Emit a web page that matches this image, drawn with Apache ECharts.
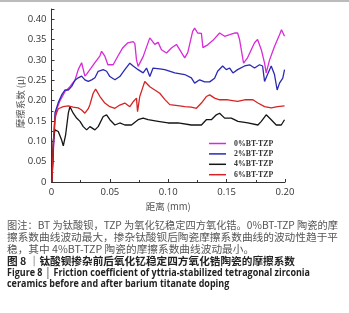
<!DOCTYPE html>
<html><head><meta charset="utf-8">
<script src="https://cdn.jsdelivr.net/npm/echarts@6/dist/echarts.min.js"></script>
<style>html,body{margin:0;padding:0;background:#fff}#c{width:349px;height:313px}</style>
</head><body><div id="c"></div>
<script>
const seriesNames = ['0%BT-TZP','2%BT-TZP','4%BT-TZP','6%BT-TZP'];
const seriesColors = ['#d82ad8','#2a2ab4','#151515','#d42424'];
const xTicks = [0, 0.05, 0.10, 0.15, 0.20];
const yTicks = [0, 0.05, 0.10, 0.15, 0.20, 0.25, 0.30, 0.35, 0.40];

const bt0 = [[0.0004,0],[0.0015,0.07],[0.0030,0.15],[0.0044,0.178],[0.0073,0.2],[0.0115,0.222],[0.0158,0.234],[0.0201,0.25],[0.0229,0.276],[0.0258,0.293],[0.0272,0.296],[0.0286,0.26],[0.0301,0.265],[0.0329,0.276],[0.0372,0.293],[0.0415,0.31],[0.0429,0.321],[0.0457,0.309],[0.0483,0.288],[0.0528,0.288],[0.0568,0.309],[0.0611,0.33],[0.0654,0.342],[0.0699,0.345],[0.0714,0.34],[0.0728,0.30],[0.0742,0.284],[0.0785,0.308],[0.0842,0.354],[0.0885,0.338],[0.0913,0.343],[0.0942,0.325],[0.0985,0.317],[0.1027,0.329],[0.1070,0.338],[0.1098,0.325],[0.1141,0.305],[0.1167,0.318],[0.1209,0.37],[0.1226,0.378],[0.1252,0.366],[0.1284,0.365],[0.1297,0.33],[0.1338,0.337],[0.1383,0.348],[0.1440,0.366],[0.1483,0.358],[0.1526,0.362],[0.1568,0.366],[0.1594,0.366],[0.1611,0.35],[0.1645,0.292],[0.1679,0.305],[0.1739,0.342],[0.1765,0.35],[0.1797,0.325],[0.1825,0.292],[0.1839,0.268],[0.1868,0.30],[0.1910,0.333],[0.1953,0.362],[0.1970,0.374],[0.1996,0.358]];
const bt2 = [[0.0004,0],[0.0015,0.08],[0.0030,0.17],[0.0058,0.195],[0.0087,0.214],[0.0115,0.226],[0.0144,0.226],[0.0173,0.235],[0.0201,0.25],[0.0229,0.256],[0.0258,0.26],[0.0286,0.251],[0.0315,0.247],[0.0344,0.251],[0.0372,0.256],[0.0400,0.272],[0.0443,0.276],[0.0472,0.272],[0.0500,0.259],[0.0543,0.251],[0.0585,0.259],[0.0628,0.276],[0.0671,0.292],[0.0699,0.285],[0.0742,0.276],[0.0785,0.268],[0.0814,0.28],[0.0842,0.259],[0.0870,0.28],[0.0927,0.278],[0.0970,0.276],[0.1056,0.268],[0.1141,0.264],[0.1198,0.256],[0.1226,0.243],[0.1269,0.251],[0.1312,0.246],[0.1355,0.246],[0.1397,0.255],[0.1423,0.272],[0.1466,0.285],[0.1497,0.276],[0.1526,0.28],[0.1554,0.268],[0.1594,0.276],[0.1654,0.285],[0.1697,0.288],[0.1739,0.28],[0.1782,0.288],[0.1808,0.285],[0.1825,0.247],[0.1850,0.264],[0.1882,0.285],[0.1910,0.264],[0.1933,0.226],[0.1953,0.243],[0.1981,0.255],[0.1996,0.276]];
const bt4 = [[0.0004,0],[0.0015,0.103],[0.0030,0.128],[0.0058,0.124],[0.0087,0.103],[0.0101,0.089],[0.0121,0.116],[0.0144,0.169],[0.0158,0.185],[0.0186,0.169],[0.0215,0.157],[0.0244,0.149],[0.0272,0.136],[0.0301,0.128],[0.0329,0.136],[0.0372,0.128],[0.0400,0.136],[0.0443,0.161],[0.0472,0.165],[0.0500,0.153],[0.0543,0.14],[0.0585,0.145],[0.0628,0.14],[0.0685,0.14],[0.0742,0.153],[0.0785,0.157],[0.0827,0.153],[0.0913,0.149],[0.0998,0.145],[0.1084,0.145],[0.1198,0.14],[0.1284,0.14],[0.1326,0.153],[0.1369,0.153],[0.1412,0.165],[0.1440,0.169],[0.1483,0.157],[0.1540,0.157],[0.1597,0.149],[0.1682,0.145],[0.1768,0.14],[0.1797,0.149],[0.1839,0.165],[0.1882,0.153],[0.1925,0.14],[0.1968,0.14],[0.1996,0.153]];
const bt6 = [[0.0004,0],[0.0015,0.09],[0.0030,0.16],[0.0058,0.18],[0.0101,0.185],[0.0144,0.187],[0.0186,0.184],[0.0229,0.182],[0.0258,0.177],[0.0286,0.169],[0.0315,0.18],[0.0329,0.19],[0.0357,0.218],[0.0378,0.228],[0.0415,0.21],[0.0457,0.194],[0.0500,0.185],[0.0543,0.181],[0.0585,0.189],[0.0628,0.194],[0.0671,0.185],[0.0699,0.197],[0.0728,0.206],[0.0737,0.173],[0.0756,0.21],[0.0785,0.235],[0.0799,0.247],[0.0842,0.234],[0.0885,0.226],[0.0927,0.218],[0.0970,0.203],[0.1013,0.19],[0.1098,0.187],[0.1141,0.185],[0.1198,0.184],[0.1241,0.181],[0.1284,0.194],[0.1326,0.21],[0.1355,0.214],[0.1397,0.206],[0.1440,0.202],[0.1509,0.202],[0.1594,0.198],[0.1654,0.202],[0.1725,0.202],[0.1768,0.194],[0.1825,0.185],[0.1882,0.182],[0.1936,0.185],[0.1996,0.187]];
const allData = [bt0, bt2, bt4, bt6];

const yAxisName = '摩擦系数 (μ)';
const xAxisName = '距离 (mm)';
const captionLines = [
  '图注：BT 为钛酸钡，TZP 为氧化钇稳定四方氧化锆。0%BT-TZP 陶瓷的摩',
  '擦系数曲线波动最大，掺杂钛酸钡后陶瓷摩擦系数曲线的波动性趋于平',
  '稳，其中 4%BT-TZP 陶瓷的摩擦系数曲线波动最小。',
  '图 8 │钛酸钡掺杂前后氧化钇稳定四方氧化锆陶瓷的摩擦系数',
  'Figure 8 │ Friction coefficient of yttria-stabilized tetragonal zirconia',
  'ceramics before and after barium titanate doping'
];

const capStyles = [
  {size:10.5, family:'Noto Sans CJK SC', weight:'normal', fill:'#555', w:331, y:225},
  {size:10.5, family:'Noto Sans CJK SC', weight:'normal', fill:'#555', w:331, y:237},
  {size:10.5, family:'Noto Sans CJK SC', weight:'normal', fill:'#555', ref:1, y:249.5},
  {size:10.5, family:'Noto Sans CJK SC', weight:'bold', fill:'#222', w:288, y:261},
  {size:10, family:'Open Sans', weight:'bold', fill:'#222', w:303, y:272.7},
  {size:10, family:'Open Sans', weight:'bold', fill:'#222', ref:4, y:284.3}
];
const mctx = document.createElement('canvas').getContext('2d');
const scales = captionLines.map((t,i)=>{
  const c = capStyles[i];
  if(!c.w) return null;
  mctx.font = c.weight + ' ' + c.size + 'px "' + c.family + '"';
  return c.w / mctx.measureText(t).width;
});
const graphic = [
  {type:'line', shape:{x1:0,y1:1,x2:349,y2:1}, style:{stroke:'#bbb', lineWidth:2}},
  {type:'text', x:20, y:102, rotation:Math.PI/2, style:{text:yAxisName, fontSize:9.5, fontFamily:'Noto Sans CJK SC',
    fill:'#555', align:'center', verticalAlign:'middle'}}
];
captionLines.forEach((t,i)=>{
  const c = capStyles[i];
  const s = c.w ? scales[i] : scales[c.ref];
  graphic.push({type:'text', x:7, y:c.y, scaleX:s, style:{text:t, fontSize:c.size, fontFamily:c.family,
    fontWeight:c.weight, fill:c.fill, verticalAlign:'middle', align:'left'}});
});

const chart = echarts.init(document.getElementById('c'), null, {renderer:'canvas'});
const fmt = v => v === 0 ? '0' : v.toFixed(2);
const axisCommon = {
  axisLine:{show:true, lineStyle:{color:'#333', width:1}},
  axisTick:{show:true, inside:true, length:3, lineStyle:{color:'#333'}},
  minorTick:{show:true, splitNumber:2, length:2, lineStyle:{color:'#333'}},
  splitLine:{show:false},
  axisLabel:{color:'#333', fontSize:9.5, fontFamily:'Open Sans', margin:5, formatter:fmt}
};

chart.setOption({
  animation:false,
  grid:{left:51.5, right:64, top:9, bottom:131, containLabel:false},
  xAxis:Object.assign({type:'value', min:0, max:0.2, interval:0.05,
    name:xAxisName, nameLocation:'middle', nameGap:18,
    nameTextStyle:{color:'#555', fontSize:9.5, fontFamily:'Noto Sans CJK SC'}}, axisCommon),
  yAxis:Object.assign({type:'value', min:0, max:0.425, interval:0.05}, axisCommon,
    {axisLabel:Object.assign({}, axisCommon.axisLabel, {showMaxLabel:false, formatter:v=> v>0.41?'':fmt(v)})}),
  legend:{orient:'vertical', left:204, top:134.5, itemWidth:17, itemHeight:1.5, itemGap:2.4, icon:'rect',
    textStyle:{fontFamily:'Liberation Serif', fontWeight:'bold', fontSize:7.8, color:'#333', padding:[0,0,0,3]},
    data:seriesNames},
  graphic:graphic,
  series: allData.map((d,i)=>({name:seriesNames[i], type:'line', data:d, showSymbol:false,
    color:seriesColors[i], lineStyle:{width:1.3, color:seriesColors[i]}}))
});
</script></body></html>
